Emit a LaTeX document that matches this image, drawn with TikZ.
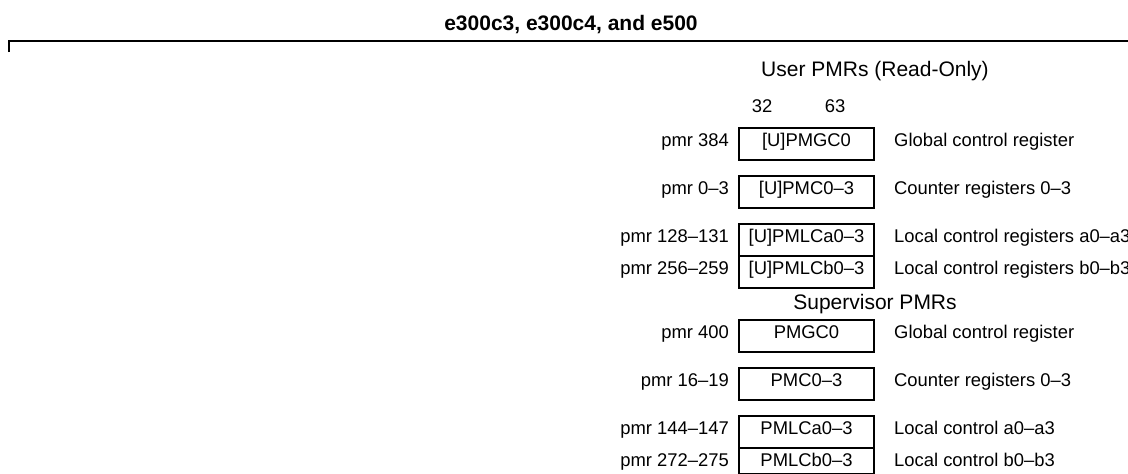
\documentclass[tikz,border=0pt]{standalone}
\usepackage{fontspec}
\setmainfont{Liberation Sans}
\usetikzlibrary{positioning}

\begin{document}
\begin{tikzpicture}[x=1pt,y=-1pt,font=\fontsize{18.4}{21}\selectfont,
  reg/.style={draw,line width=2pt,minimum width=135pt,inner sep=0pt,
    text height=18.5pt,text depth=13.5pt,anchor=north west},
  pmr/.style={inner sep=0pt},
  desc/.style={inner sep=0pt},
  head/.style={anchor=base,font=\fontsize{21}{24}\selectfont}]
\useasboundingbox (0,0) rectangle (1128,474);
% header line
\node[head,font=\fontsize{21}{24}\selectfont\bfseries] (title) at (571,30) {e300c3, e300c4, and e500};
\coordinate (hl) at (9,41);
\coordinate (hr) at (1128,41);
\draw[line width=2pt] ([yshift=-11pt]hl) -- (hl) -- (hr);

\node[head] (user) at (875,76) {User PMRs (Read-Only)};
\node[anchor=base] (b32) at (762,112) {32};
\node[anchor=base] (b63) at (835,112) {63};

% user registers
\node[reg] (upmgc) at (738,127) {[U]PMGC0};
\node[reg] (upmc) at (738,175) {[U]PMC0–3};
\node[reg] (upmlca) at (738,223) {[U]PMLCa0–3};
\node[reg] (upmlcb) at (738,255) {[U]PMLCb0–3};

\node[pmr,left=9pt of upmgc.base west,anchor=base east] (p384) {pmr 384};
\node[pmr,left=9pt of upmc.base west,anchor=base east] (p0) {pmr 0–3};
\node[pmr,left=9pt of upmlca.base west,anchor=base east] (p128) {pmr 128–131};
\node[pmr,left=9pt of upmlcb.base west,anchor=base east] (p256) {pmr 256–259};

\node[desc,right=19pt of upmgc.base east,anchor=base west] (d1) {Global control register};
\node[desc,right=19pt of upmc.base east,anchor=base west] (d2) {Counter registers 0–3};
\node[desc,right=19pt of upmlca.base east,anchor=base west] (d3) {Local control registers a0–a3};
\node[desc,right=19pt of upmlcb.base east,anchor=base west] (d4) {Local control registers b0–b3};

\node[head] (sup) at (875,309) {Supervisor PMRs};

% supervisor registers
\node[reg] (pmgc) at (738,319) {PMGC0};
\node[reg] (pmc) at (738,367) {PMC0–3};
\node[reg] (pmlca) at (738,415) {PMLCa0–3};
\node[reg,text depth=7.5pt] (pmlcb) at (738,447) {PMLCb0–3};

\node[pmr,left=9pt of pmgc.base west,anchor=base east] (p400) {pmr 400};
\node[pmr,left=9pt of pmc.base west,anchor=base east] (p16) {pmr 16–19};
\node[pmr,left=9pt of pmlca.base west,anchor=base east] (p144) {pmr 144–147};
\node[pmr,left=9pt of pmlcb.base west,anchor=base east] (p272) {pmr 272–275};

\node[desc,right=19pt of pmgc.base east,anchor=base west] (d5) {Global control register};
\node[desc,right=19pt of pmc.base east,anchor=base west] (d6) {Counter registers 0–3};
\node[desc,right=19pt of pmlca.base east,anchor=base west] (d7) {Local control a0–a3};
\node[desc,right=19pt of pmlcb.base east,anchor=base west] (d8) {Local control b0–b3};
\end{tikzpicture}
\end{document}
